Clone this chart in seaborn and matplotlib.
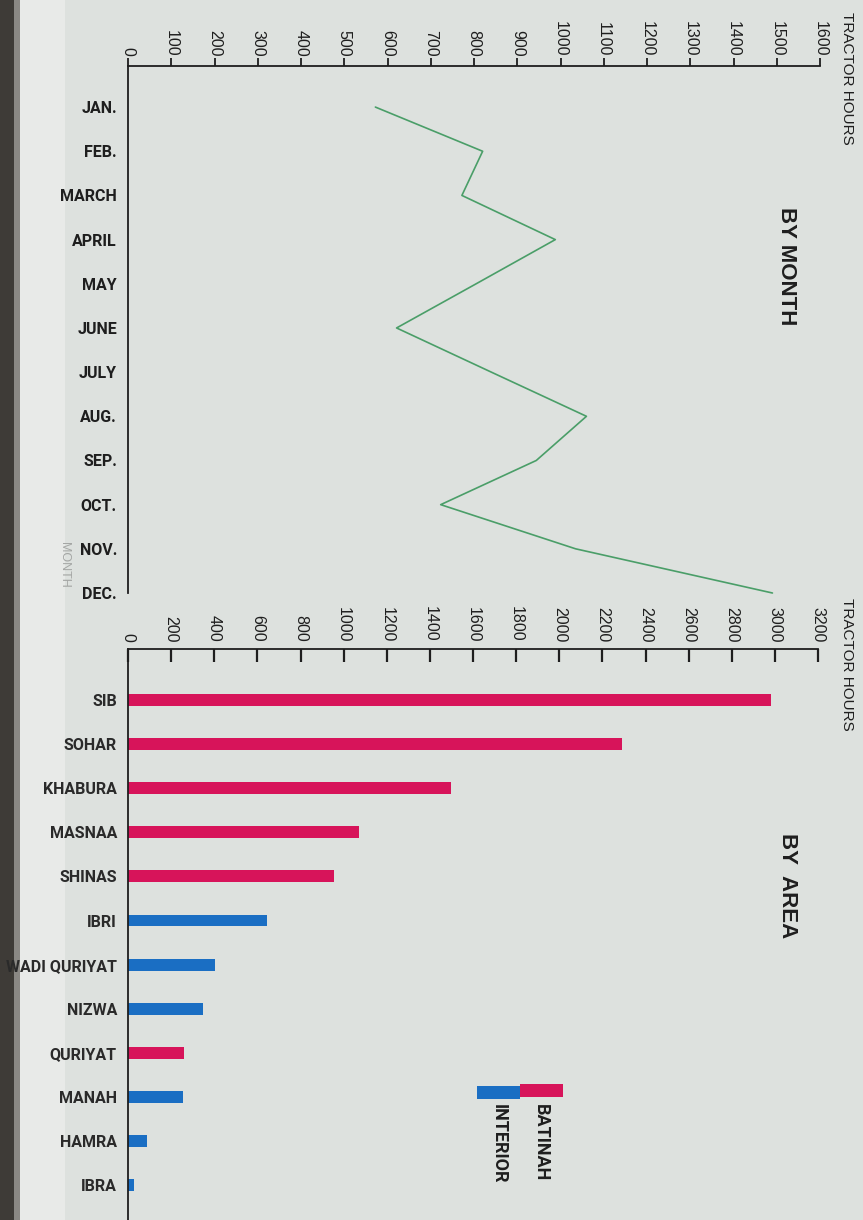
import numpy as np
import pandas as pd
import matplotlib
matplotlib.use("Agg")
import matplotlib.pyplot as plt
from matplotlib.patches import Rectangle
import seaborn as sns

# ---------------- data ----------------
months = ["JAN.", "FEB.", "MARCH", "APRIL", "MAY", "JUNE", "JULY",
          "AUG.", "SEP.", "OCT.", "NOV.", "DEC."]
month_hours = [572, 820, 772, 988, 805, 621, 840, 1060, 944, 723, 1035, 1490]

areas = ["SIB", "SOHAR", "KHABURA", "MASNAA", "SHINAS", "IBRI",
         "WADI QURIYAT", "NIZWA", "QURIYAT", "MANAH", "HAMRA", "IBRA"]
area_hours = [2980, 2290, 1500, 1073, 955, 644, 405, 347, 262, 253, 88, 28]
area_region = ["BATINAH", "BATINAH", "BATINAH", "BATINAH", "BATINAH", "INTERIOR",
               "INTERIOR", "INTERIOR", "BATINAH", "INTERIOR", "INTERIOR", "INTERIOR"]

month_ticks = list(range(0, 1700, 100))
area_ticks = list(range(0, 3400, 200))

# ---------------- style ----------------
PAPER = "#dde1de"
RED = "#d7145a"
BLUE = "#1a6ec3"
GREEN = "#4a9e68"
INK = "#1e1e1e"
NARROW = ["Roboto", "DejaVu Sans"]
SANS = ["Liberation Sans", "DejaVu Sans"]

sns.set_style("white")
plt.rcParams["font.family"] = SANS
plt.rcParams["axes.linewidth"] = 1.3

W, H = 863, 1220
fig = plt.figure(figsize=(W / 100, H / 100), dpi=100, facecolor=PAPER)

# paper edge / binding shading
fig.add_artist(Rectangle((0, 0), 14 / W, 1, transform=fig.transFigure,
                         facecolor="#3e3b37", edgecolor="none", zorder=0))
fig.add_artist(Rectangle((14 / W, 0), 6 / W, 1, transform=fig.transFigure,
                         facecolor="#8a8884", edgecolor="none", zorder=0))
fig.add_artist(Rectangle((20 / W, 0), 45 / W, 1, transform=fig.transFigure,
                         facecolor="#e8eae8", edgecolor="none", zorder=0))

def px_axes(left, top, right, bottom):
    return fig.add_axes([left / W, 1 - bottom / H, (right - left) / W, (bottom - top) / H])

# ---------------- BY MONTH ----------------
ax1 = px_axes(128, 66, 820, 593)
ax1.set_facecolor("none")
month_pos = list(range(len(months)))
sns.lineplot(x=month_hours, y=month_pos, orient="y", sort=False, estimator=None,
             errorbar=None, color=GREEN, linewidth=1.2, ax=ax1, clip_on=False)
ax1.set_xlim(0, 1600)
ax1.set_ylim(11, -0.93)
ax1.xaxis.tick_top()
ax1.set_xticks(month_ticks)
ax1.set_xticklabels([str(v) for v in month_ticks], rotation=-90,
                    fontsize=11.5, color=INK, family=SANS)
ax1.set_yticks(month_pos)
ax1.set_yticklabels(months, fontsize=11.5, fontweight="bold", color="#2a2a2a", family=NARROW)
ax1.tick_params(axis="x", direction="out", length=6, width=1.3, pad=1, colors=INK)
ax1.tick_params(axis="y", direction="out", length=6, width=1.3, pad=2, colors=INK)
for s in ["right", "bottom"]:
    ax1.spines[s].set_visible(False)
for s in ["top", "left"]:
    ax1.spines[s].set_color(INK)
ax1.set_xlabel("")
ax1.set_ylabel("")

# ---------------- BY AREA ----------------
ax2 = px_axes(128, 649, 818, 1220)
ax2.set_facecolor("none")
df = pd.DataFrame({"area": areas, "hours": area_hours, "region": area_region})
sns.barplot(data=df, x="hours", y="area", hue="region", order=areas, orient="h",
            palette={"BATINAH": RED, "INTERIOR": BLUE}, dodge=False, width=0.27,
            legend=False, saturation=1, linewidth=0, ax=ax2)
ax2.set_xlim(0, 3200)
ax2.set_ylim(11.79, -1.157)
ax2.xaxis.tick_top()
ax2.set_xticks(area_ticks)
ax2.set_xticklabels([str(v) for v in area_ticks], rotation=-90,
                    fontsize=11.5, color=INK, family=SANS)
ax2.set_yticks(range(len(areas)))
ax2.set_yticklabels(areas, fontsize=11.5, fontweight="bold", color="#2a2a2a", family=NARROW)
ax2.tick_params(axis="x", direction="in", length=9, width=1.6, pad=5, colors=INK)
ax2.tick_params(axis="y", length=0, pad=8)
for s in ["right", "bottom"]:
    ax2.spines[s].set_visible(False)
for s in ["top", "left"]:
    ax2.spines[s].set_color(INK)
ax2.set_xlabel("")
ax2.set_ylabel("")

# ---------------- titles / labels ----------------
def ftext(x, y, s, **kw):
    fig.text(x / W, 1 - y / H, s, **kw)

ftext(847, 12, "TRACTOR HOURS", rotation=-90, ha="center", va="top",
      fontsize=11, color=INK, family=SANS)
ftext(847, 598, "TRACTOR HOURS", rotation=-90, ha="center", va="top",
      fontsize=11, color=INK, family=SANS)
ftext(786, 207, "BY MONTH", rotation=-90, ha="center", va="top",
      fontsize=16, fontweight="bold", color=INK, family=SANS)
ftext(787, 833, "BY  AREA", rotation=-90, ha="center", va="top",
      fontsize=16, fontweight="bold", color=INK, family=SANS)
ftext(64, 542, "MONTH", rotation=-90, ha="center", va="top",
      fontsize=9, color="#a4a6a4", family=SANS)

# legend
fig.add_artist(Rectangle((520 / W, 1 - 1097 / H), 43 / W, 13 / H, transform=fig.transFigure,
                         facecolor=RED, edgecolor="none"))
fig.add_artist(Rectangle((477 / W, 1 - 1099 / H), 43 / W, 13 / H, transform=fig.transFigure,
                         facecolor=BLUE, edgecolor="none"))
ftext(541, 1104, "BATINAH", rotation=-90, ha="center", va="top",
      fontsize=13, fontweight="bold", color=INK, family=NARROW)
ftext(499, 1104, "INTERIOR", rotation=-90, ha="center", va="top",
      fontsize=13, fontweight="bold", color=INK, family=NARROW)

fig.savefig("out.png", dpi=100, facecolor=PAPER)
